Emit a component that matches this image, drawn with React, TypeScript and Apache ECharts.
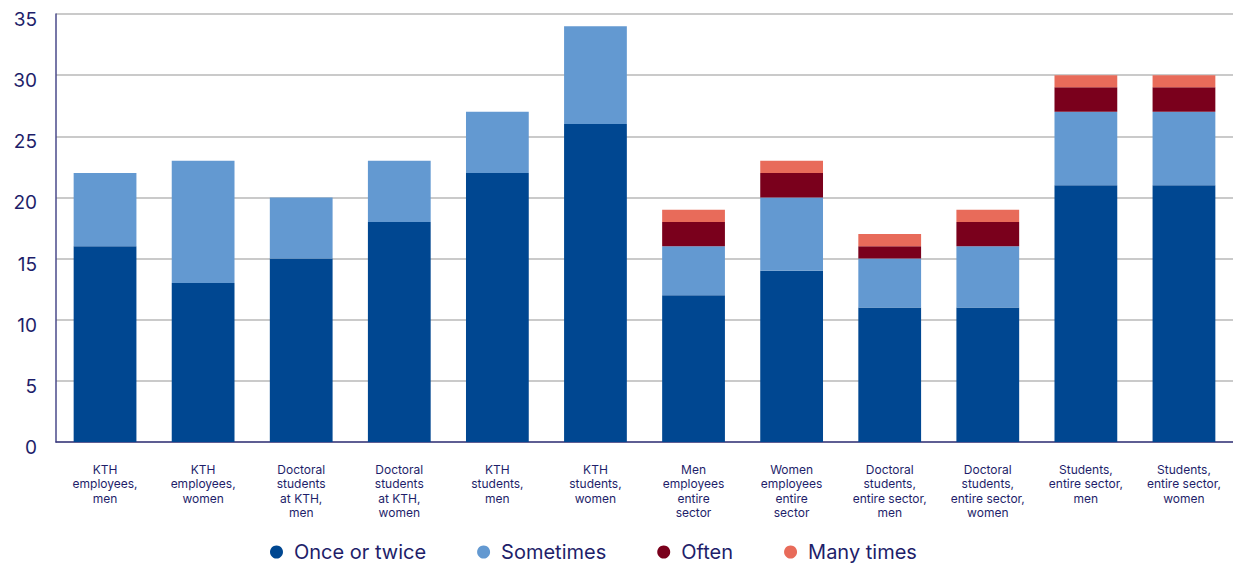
import React, { useEffect, useRef } from "react";
import * as echarts from "echarts";

const categories = [
  "KTH\nemployees,\nmen",
  "KTH\nemployees,\nwomen",
  "Doctoral\nstudents\nat KTH,\nmen",
  "Doctoral\nstudents\nat KTH,\nwomen",
  "KTH\nstudents,\nmen",
  "KTH\nstudents,\nwomen",
  "Men\nemployees\nentire\nsector",
  "Women\nemployees\nentire\nsector",
  "Doctoral\nstudents,\nentire sector,\nmen",
  "Doctoral\nstudents,\nentire sector,\nwomen",
  "Students,\nentire sector,\nmen",
  "Students,\nentire sector,\nwomen",
];

const onceOrTwice = [16, 13, 15, 18, 22, 26, 12, 14, 11, 11, 21, 21];
const sometimes = [6, 10, 5, 5, 5, 8, 4, 6, 4, 5, 6, 6];
const often = [0, 0, 0, 0, 0, 0, 2, 2, 1, 2, 2, 2];
const manyTimes = [0, 0, 0, 0, 0, 0, 1, 1, 1, 1, 1, 1];

const seriesNames = ["Once or twice", "Sometimes", "Often", "Many times"];
const seriesColors = ["#004791", "#6399d1", "#7a001c", "#e86b5a"];

const yTicks = { min: 0, max: 35, interval: 5 };

const FONT = "Inter, 'Noto Sans', sans-serif";
const TEXT = "#1e1e6a";

export default function App() {
  const ref = useRef<HTMLDivElement>(null);

  useEffect(() => {
    if (!ref.current) return;
    const chart = echarts.init(ref.current, undefined, { renderer: "svg" });
    const values = [onceOrTwice, sometimes, often, manyTimes];
    chart.setOption({
      animation: false,
      backgroundColor: "#ffffff",
      textStyle: { fontFamily: FONT },
      grid: { left: 56, right: 0, top: 14, bottom: 123, containLabel: false },
      legend: {
        bottom: -2,
        left: 265,
        icon: "circle",
        itemWidth: 13,
        itemHeight: 13,
        itemGap: 51,
        textStyle: {
          fontSize: 20,
          color: TEXT,
          fontFamily: FONT,
          padding: [0, 0, 0, 6],
        },
        data: seriesNames,
      },
      xAxis: {
        type: "category",
        data: categories,
        axisLine: { show: true, lineStyle: { color: "#3a3a80", width: 1.5 } },
        axisTick: { show: false },
        axisLabel: {
          interval: 0,
          margin: 20,
          fontSize: 12,
          lineHeight: 14.5,
          color: TEXT,
          fontFamily: FONT,
          align: "center",
        },
      },
      yAxis: {
        type: "value",
        min: yTicks.min,
        max: yTicks.max,
        interval: yTicks.interval,
        axisLine: { show: true, lineStyle: { color: "#4a4a8a", width: 1.5 } },
        axisTick: { show: false },
        splitLine: { lineStyle: { color: "#b9b9b9", width: 1.5 } },
        axisLabel: {
          fontSize: 19,
          color: TEXT,
          margin: 19,
          fontFamily: FONT,
          verticalAlign: "top",
          padding: [-4, 0, 0, 0],
        },
      },
      series: seriesNames.map((name, i) => ({
        name,
        type: "bar",
        stack: "total",
        barWidth: "64%",
        itemStyle: { color: seriesColors[i] },
        data: values[i].map((v) => (v === 0 ? null : v)),
      })),
    });
    return () => chart.dispose();
  }, []);

  return (
    <div
      ref={ref}
      style={{ position: "fixed", left: 0, top: 0, width: 1233, height: 565, background: "#fff" }}
    />
  );
}
